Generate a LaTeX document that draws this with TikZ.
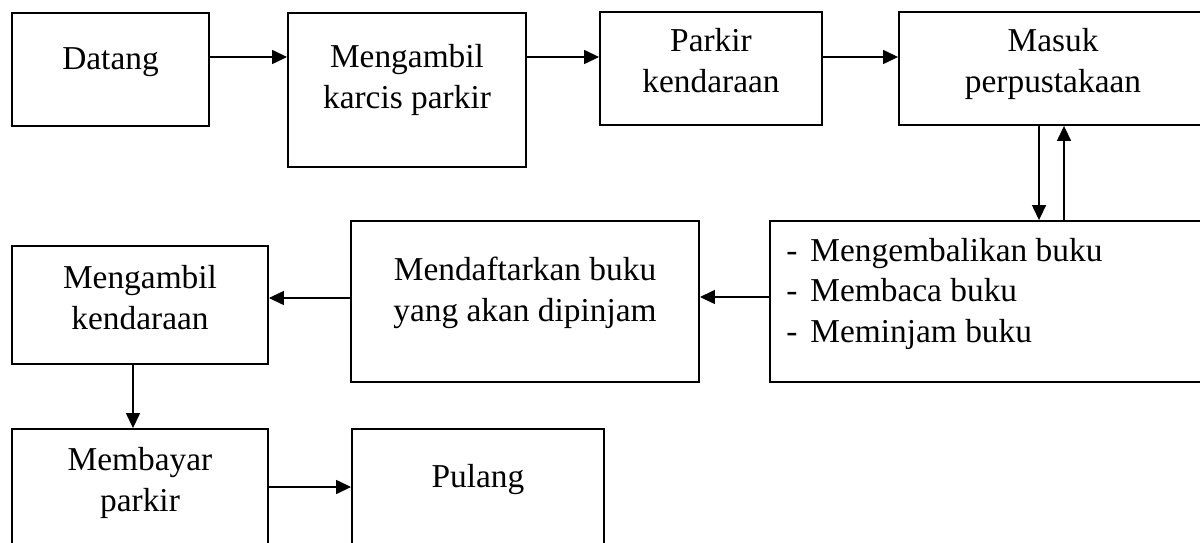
\documentclass[tikz,border=0pt]{standalone}
\usepackage{fontspec}
\setmainfont{Liberation Serif}
\usetikzlibrary{arrows.meta,positioning}

\begin{document}
\begin{tikzpicture}[
  box/.style={draw, line width=1.1pt, inner sep=0pt},
  txt/.style={font=\fontsize{19pt}{22.8pt}\selectfont, align=center, anchor=base, inner sep=0pt},
  arrow/.style={-{Triangle[length=8.5pt,width=8pt]}, line width=0.6pt}
]
\useasboundingbox (0,0) rectangle (24,-10.86);
% top row
\node[box, minimum width=3.94cm, minimum height=2.26cm] (datang) at (2.21,-1.39) {};
\node[box, minimum width=4.76cm, minimum height=3.08cm] (karcis) at (8.14,-1.80) {};
\node[box, minimum width=4.44cm, minimum height=2.26cm] (parkir) at (14.22,-1.37) {};
\node[box, minimum width=6.16cm, minimum height=2.26cm] (masuk) at (21.06,-1.37) {};
% (base = last line)
\node[txt] (datangT) at ([yshift=-1.14cm]datang.north) {Datang};
\node[txt] (karcisT) at ([yshift=-1.92cm]karcis.north) {Mengambil\\karcis parkir};
\node[txt] (parkirT) at ([yshift=-1.62cm]parkir.north) {Parkir\\kendaraan};
\node[txt] (masukT) at ([yshift=-1.62cm]masuk.north) {Masuk\\perpustakaan};
% middle row
\node[box, minimum width=8.9cm, minimum height=3.22cm] (list) at (19.85,-6.03) {};
\node[box, minimum width=6.96cm, minimum height=3.22cm] (daftar) at (10.5,-6.03) {};
\node[box, minimum width=5.12cm, minimum height=2.36cm] (kendaraan) at (2.8,-6.10) {};
\node[txt, anchor=base west, align=left] (listT) at ([xshift=0.34cm, yshift=-2.44cm]list.north west)
  {\makebox[0.48cm][l]{-}Mengembalikan buku\\\makebox[0.48cm][l]{-}Membaca buku\\\makebox[0.48cm][l]{-}Meminjam buku};
\node[txt] (daftarT) at ([yshift=-2.02cm]daftar.north) {Mendaftarkan buku\\yang akan dipinjam};
\node[txt] (kendaraanT) at ([yshift=-1.68cm]kendaraan.north) {Mengambil\\kendaraan};
% bottom row
\node[box, minimum width=5.12cm, minimum height=2.62cm] (bayar) at (2.8,-9.89) {};
\node[box, minimum width=5.04cm, minimum height=2.62cm] (pulang) at (9.56,-9.89) {};
\node[txt] (bayarT) at ([yshift=-1.66cm]bayar.north) {Membayar\\parkir};
\node[txt] (pulangT) at ([yshift=-1.18cm]pulang.north) {Pulang};
% connectors
\draw[arrow] (datang.east |- 0,-1.14) -- (karcis.west |- 0,-1.14);
\draw[arrow] (karcis.east |- 0,-1.14) -- (parkir.west |- 0,-1.14);
\draw[arrow] (parkir.east |- 0,-1.14) -- (masuk.west |- 0,-1.14);
\draw[arrow] (masuk.south -| 20.78,0) -- (list.north -| 20.78,0);
\draw[arrow] (list.north -| 21.28,0) -- (masuk.south -| 21.28,0);
\draw[arrow] (list.west |- 0,-5.94) -- (daftar.east |- 0,-5.94);
\draw[arrow] (daftar.west |- 0,-5.96) -- (kendaraan.east |- 0,-5.96);
\draw[arrow] (kendaraan.south -| 2.66,0) -- (bayar.north -| 2.66,0);
\draw[arrow] (bayar.east |- 0,-9.74) -- (pulang.west |- 0,-9.74);
\end{tikzpicture}
\end{document}
